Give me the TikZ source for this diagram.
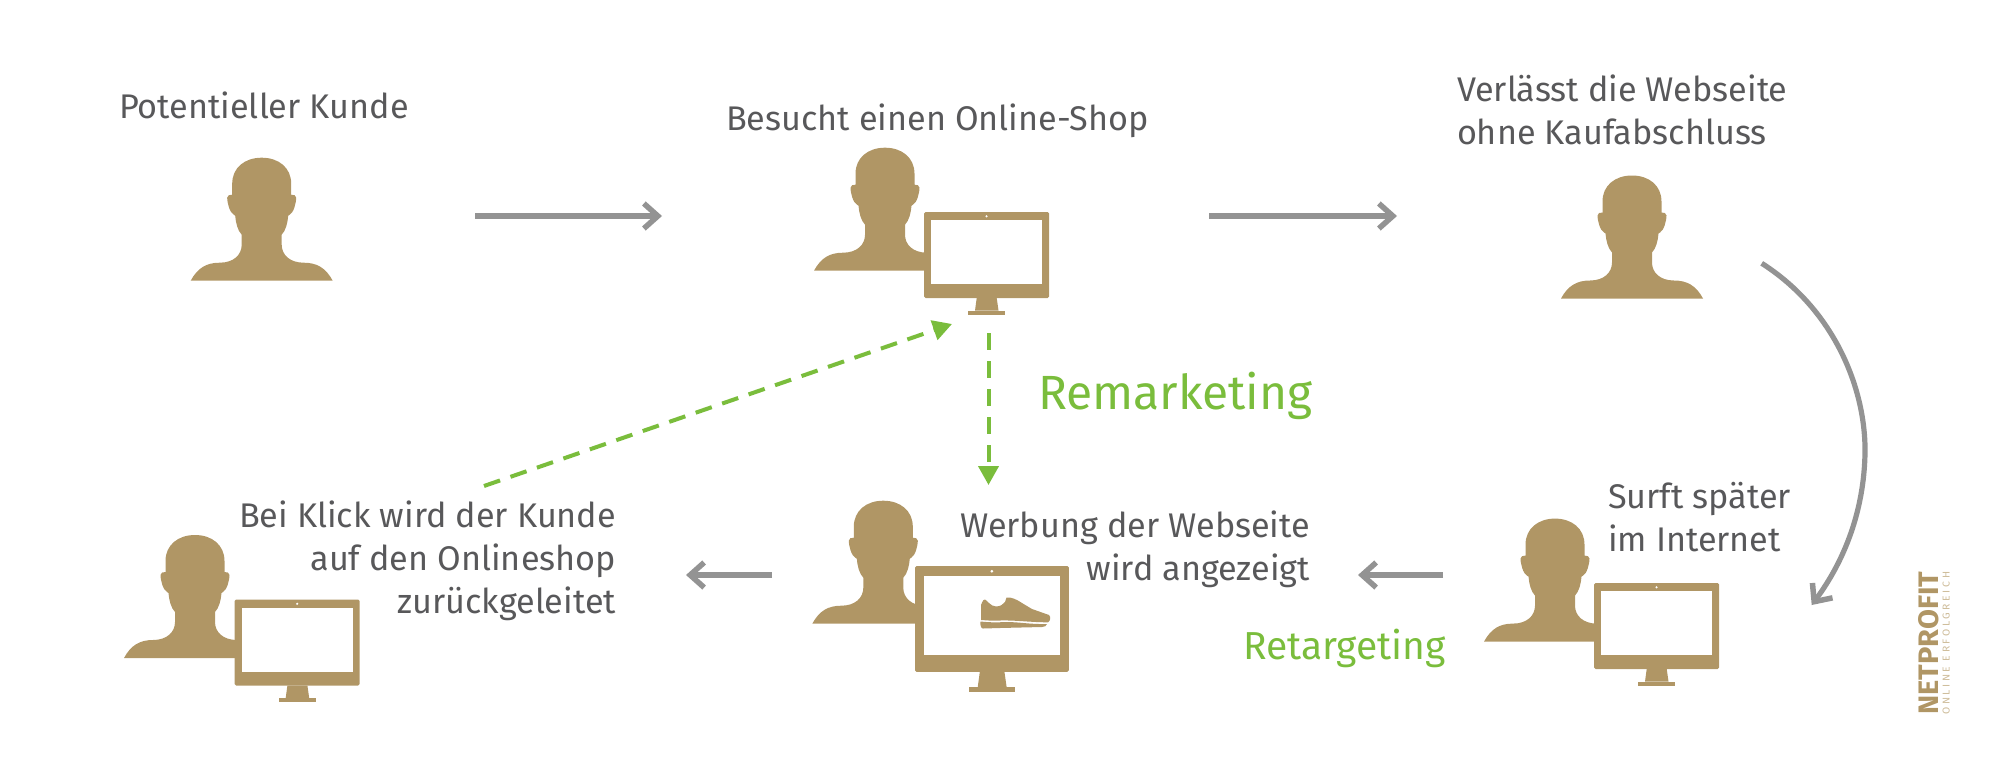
\documentclass[tikz,border=0pt]{standalone}
\usepackage{fontspec}
\setmainfont{Fira Sans}
\usetikzlibrary{arrows.meta}
\definecolor{gold}{HTML}{B09665}
\definecolor{lightgold}{HTML}{CDBB98}
\definecolor{txt}{HTML}{58585A}
\definecolor{grn}{HTML}{7ABD3C}
\definecolor{arr}{HTML}{939393}
\tikzset{
  x=1pt,y=-1pt,
  person/.pic={\fill[gold] (-71,0) .. controls (-64,-13) and (-55,-18) .. (-42,-18)
    .. controls (-28,-18) and (-20,-26) .. (-20,-36) -- (-20,-46)
    .. controls (-24,-50) and (-26,-58) .. (-26.5,-65) -- (-28,-66)
    .. controls (-32,-68) and (-34.5,-78) .. (-34.5,-83)
    .. controls (-34.5,-85.5) and (-32,-86) .. (-29.5,-86) -- (-29.5,-97)
    .. controls (-29.5,-113) and (-17,-123) .. (0,-123)
    .. controls (17,-123) and (29.5,-113) .. (29.5,-97) -- (29.5,-86)
    .. controls (32,-86) and (34.5,-85.5) .. (34.5,-83)
    .. controls (34.5,-78) and (32,-68) .. (28,-66) -- (26.5,-65)
    .. controls (26,-58) and (24,-50) .. (20,-46) -- (20,-36)
    .. controls (20,-26) and (28,-18) .. (42,-18)
    .. controls (55,-18) and (64,-13) .. (71,0) -- cycle;},
  monitor/.pic={\fill[gold,rounded corners=1.5pt] (0,0) rectangle (125,86);
    \fill[white] (7,8.3) rectangle (118,72.3);
    \fill[white] (62.5,4.3) circle[radius=1.2];
    \fill[gold] (52.7,86) -- (72.7,86) -- (74.5,98.5) -- (51,98.5) -- cycle;
    \fill[gold] (44,98.5) rectangle (81,102.5);},
  label/.style={text=txt,font=\fontsize{34.2}{43}\selectfont,inner sep=0pt,outer sep=0pt},
  glabel/.style={text=grn,inner sep=0pt,outer sep=0pt},
  flow/.style={draw=arr,line width=5.2pt,-{Straight Barb[length=14pt,width=25pt,line width=5.5pt]}},
  remark/.style={draw=grn,line width=4pt,dash pattern=on 17pt off 11pt,-{Triangle[length=19pt,width=20pt]}},
}
\begin{document}
\begin{tikzpicture}
\useasboundingbox (0,0) rectangle (2000,763);
\pic at (261.7,280.7) {person};
\pic at (885,270.7) {person};
\pic at (1632,298.5) {person};
\pic at (883.3,623.7) {person};
\pic at (1555,641.6) {person};
\pic at (195,658) {person};
\pic at (924,212) {monitor};
\pic[scale=1.23] at (915,566) {monitor};
\pic at (1594,583) {monitor};
\pic at (234.7,599.5) {monitor};
% shoe
\fill[gold] (981,605) .. controls (983,600) and (984,599) .. (985,599.5)
  .. controls (988,601) and (990,606) .. (996,606.5) .. controls (1001,606.5) and (1003,604) .. (1005,602)
  -- (1006.5,597.5) .. controls (1011,597) and (1016,599) .. (1022,603) -- (1032,609) -- (1049,615)
  .. controls (1051,617) and (1050.5,621) .. (1048,622.3)
  .. controls (1030,622.3) and (1015,620) .. (1000,620.5) .. controls (995,621) and (988,620.5) .. (981,620) -- cycle;
\fill[gold] (980.5,621.5) .. controls (990,622.5) and (997,622.5) .. (1006,622) .. controls (1020,622) and (1030,624.5) .. (1047,624)
  .. controls (1046,626) and (1045,627) .. (1042,627) -- (1000,628) -- (983,628.5) .. controls (981,628.5) and (980,625) .. (980.5,621.5) -- cycle;
% coordinates
\coordinate (a1s) at (475,216); \coordinate (a1e) at (662,216);
\coordinate (a2s) at (1209,216); \coordinate (a2e) at (1397,216);
\coordinate (a3s) at (1761.7,263.3); \coordinate (a3e) at (1811.7,605);
\coordinate (a4s) at (1443,575); \coordinate (a4e) at (1358,575);
\coordinate (a5s) at (772,575); \coordinate (a5e) at (686,575);
\coordinate (r1s) at (484,486); \coordinate (r1e) at (952,324);
\coordinate (r2s) at (988.5,333); \coordinate (r2e) at (988.5,485);
\draw[flow] (a1s) -- (a1e);
\draw[flow] (a2s) -- (a2e);
\draw[flow] (a3s) .. controls (1835,310) and (1866,390) .. (1865,453) .. controls (1864,510) and (1845,560) .. (a3e);
\draw[flow] (a4s) -- (a4e);
\draw[flow] (a5s) -- (a5e);
\draw[remark] (r1s) -- (r1e);
\draw[remark] (r2s) -- (r2e);
% texts
\node[label,anchor=base west] (t1) at (119,118.6) {Potentieller Kunde};
\node[label,anchor=base west] (t2) at (726,130) {Besucht einen Online-Shop};
\node[label,anchor=base west,align=left] (t3) at (1457,144) {Verlässt die Webseite\\ohne Kaufabschluss};
\node[label,anchor=base west,align=left] (t4) at (1608,551) {Surft später\\im Internet};
\node[label,anchor=base east,align=right] (t5) at (1310,580) {Werbung der Webseite\\wird angezeigt};
\node[label,anchor=base east,align=right] (t6) at (616,613.5) {Bei Klick wird der Kunde\\auf den Onlineshop\\zurückgeleitet};
\node[glabel,font=\fontsize{48}{58}\selectfont,anchor=base west] (t7) at (1038,409.5) {Remarketing};
\node[glabel,font=\fontsize{39}{43}\selectfont,anchor=base west] (t8) at (1243,659) {Retargeting};
\node[rotate=90,anchor=south west,inner sep=0pt,text=gold] (logo) at (1939,715) {\resizebox{143pt}{20pt}{\bfseries NETPROFIT}};
\node[rotate=90,anchor=south west,inner sep=0pt,text=lightgold] (sub) at (1950,715) {\resizebox{143pt}{7pt}{\addfontfeature{LetterSpace=25}ONLINE ERFOLGREICH}};
\end{tikzpicture}
\end{document}
